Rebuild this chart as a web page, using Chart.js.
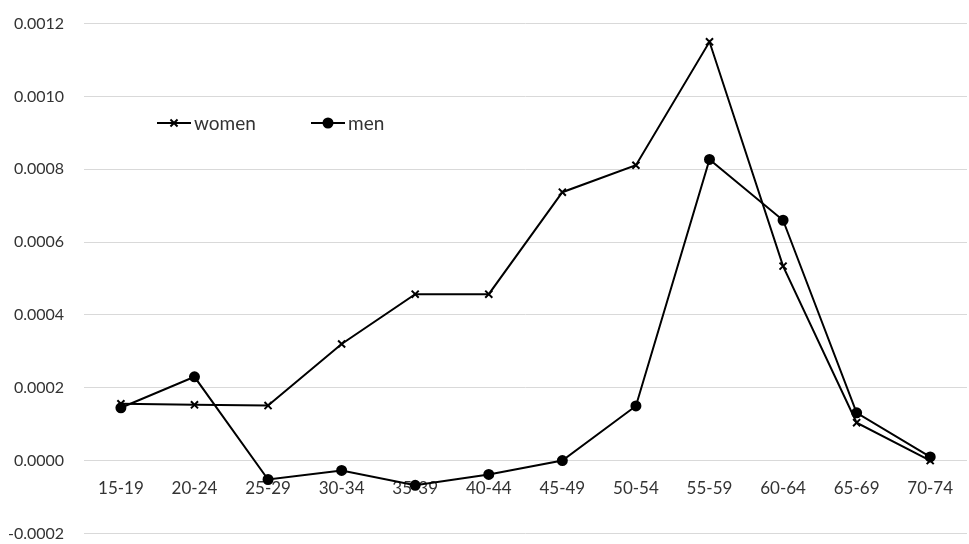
<!DOCTYPE html>
<html>
<head>
<meta charset="utf-8">
<script src="https://cdn.jsdelivr.net/npm/chart.js@4"></script>
<style>
  html, body { margin: 0; padding: 0; background: #fff; overflow: hidden; width: 969px; height: 544px; position: relative; }
  #wrap { position: absolute; left: -12px; top: -6px; width: 986px; height: 569px; }
</style>
</head>
<body>
<div id="wrap"><canvas id="chart"></canvas></div>
<script>
const ageGroups = ["15-19", "20-24", "25-29", "30-34", "35-39", "40-44", "45-49", "50-54", "55-59", "60-64", "65-69", "70-74"];
const women = [0.000156, 0.000153, 0.000151, 0.00032, 0.000457, 0.000457, 0.000737, 0.000811, 0.00115, 0.000534, 0.000104, 0.0];
const men = [0.000145, 0.00023, -0.000052, -0.000027, -0.000068, -0.000038, 0.0, 0.00015, 0.000827, 0.00066, 0.000131, 0.00001];

const fam = "Lato, 'Open Sans', sans-serif";
const textColor = "#333";

// legend drawn inside the plot, like the original (page coords, canvas is shifted)
const insideLegend = {
  id: "insideLegend",
  afterDraw(chart) {
    let ctx = chart.ctx;
    let spots = [157 + 12, 311 + 12];
    ctx.save();
    chart.data.datasets.forEach((ds, i) => {
      let x = spots[i], y = 123 + 6;
      ctx.strokeStyle = "#000";
      ctx.lineWidth = 2;
      ctx.beginPath();
      ctx.moveTo(x, y);
      ctx.lineTo(x + 34, y);
      ctx.stroke();
      ctx.fillStyle = "#000";
      Chart.helpers.drawPoint(ctx, {
        pointStyle: ds.pointStyle,
        radius: ds.pointRadius,
        borderWidth: 2,
      }, x + 17, y);
      ctx.fillStyle = textColor;
      ctx.font = "19px " + fam;
      ctx.textBaseline = "middle";
      ctx.fillText(ds.label, x + 37, y + 1);
    });
    ctx.restore();
  },
};

new Chart(document.getElementById("chart"), {
  type: "line",
  data: {
    labels: ageGroups,
    datasets: [
      {
        label: "women",
        data: women,
        borderColor: "#000",
        backgroundColor: "#000",
        borderWidth: 2,
        pointStyle: "crossRot",
        pointRadius: 5,
        pointBorderWidth: 2,
      },
      {
        label: "men",
        data: men,
        borderColor: "#000",
        backgroundColor: "#000",
        borderWidth: 2,
        pointStyle: "circle",
        pointRadius: 4.5,
      },
    ],
  },
  options: {
    responsive: true,
    maintainAspectRatio: false,
    animation: false,
    layout: { padding: { top: 5, bottom: 0, right: 0, left: 0 } },
    plugins: {
      legend: { display: false },
      tooltip: { enabled: false },
    },
    scales: {
      x: {
        position: { y: 0 },
        offset: true,
        grid: { display: false },
        border: { display: false },
        ticks: { color: textColor, font: { family: fam, size: 17 }, padding: 10, maxRotation: 0 },
      },
      y: {
        min: -0.0002,
        max: 0.0012,
        ticks: {
          stepSize: 0.0002,
          color: textColor,
          font: { family: fam, size: 16 },
          padding: 20,
          callback: (v) => Number(v).toFixed(4),
        },
        grid: { color: "#d9d9d9", lineWidth: 1, drawTicks: false },
        border: { display: false },
      },
    },
  },
  plugins: [insideLegend],
});
</script>
</body>
</html>
